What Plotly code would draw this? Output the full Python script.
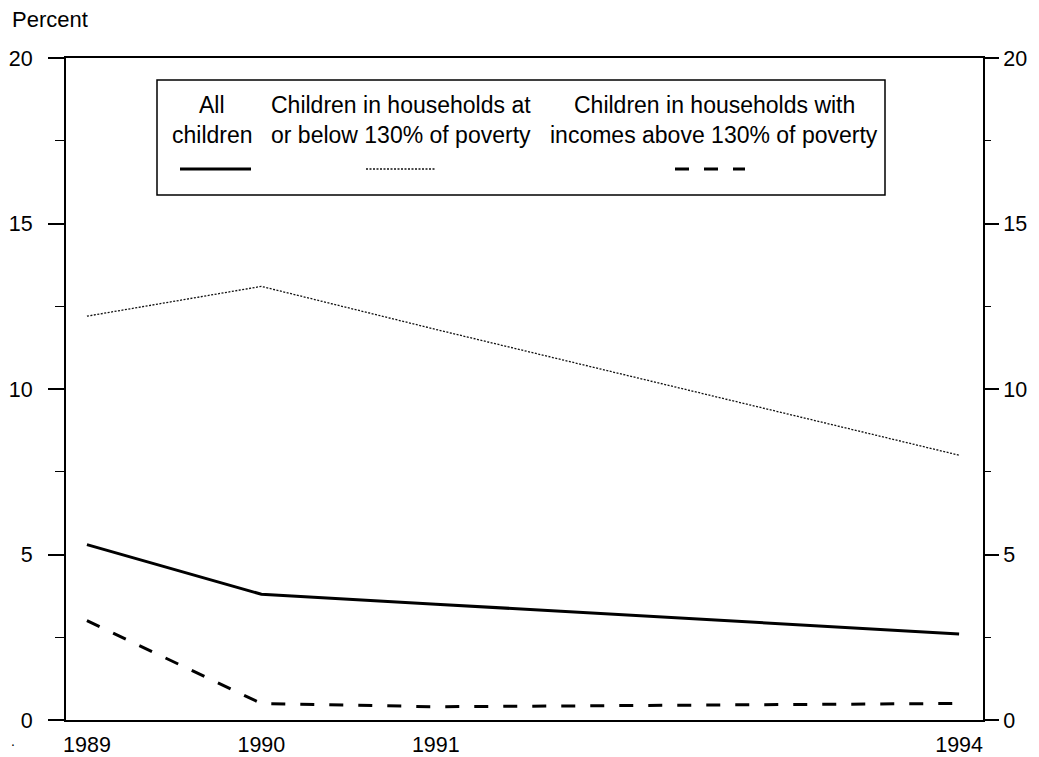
import plotly.graph_objects as go

years = [1989, 1990, 1991, 1994]
all_children = [5.3, 3.8, 3.5, 2.6]
below_130 = [12.2, 13.1, 11.8, 8.0]
above_130 = [3.0, 0.5, 0.4, 0.5]

x_ticks = [1989, 1990, 1991, 1994]
y_ticks = [0, 5, 10, 15, 20]

legend_cols = [
    ("All", "children"),
    ("Children in households at", "or below 130% of poverty"),
    ("Children in households with", "incomes above 130% of poverty"),
]

FONT = "Liberation Sans, Arial, sans-serif"
FS = 22
LFS = 23
TFS = 21.5

# page has an 8px body margin; compensate so the plot lands at absolute page pixels
OFF = 8
PAGE_W, PAGE_H = 1039, 757
PL, PR, PT, PB = 66, 983, 58, 720  # plot area in page pixels

W, H = PAGE_W - OFF, PAGE_H - OFF
L = PL - OFF
T = PT - OFF
R = W - (PR - OFF)
B = H - (PB - OFF)
pw = PR - PL
ph = PB - PT


def px(x):
    return (x - PL) / pw


def py(y):
    return (PB - y) / ph


DOT = dict(color="#111", width=1.3, dash="2px,1.5px")
DASH = dict(color="black", width=3, dash="14px,15px")

fig = go.Figure()
fig.add_trace(go.Scatter(x=years, y=below_130, mode="lines", line=DOT,
                         hoverinfo="skip", showlegend=False))
fig.add_trace(go.Scatter(x=years, y=all_children, mode="lines",
                         line=dict(color="black", width=3),
                         hoverinfo="skip", showlegend=False))
fig.add_trace(go.Scatter(x=years, y=above_130, mode="lines", line=DASH,
                         hoverinfo="skip", showlegend=False))
# invisible trace so the right axis is drawn
fig.add_trace(go.Scatter(x=years, y=all_children, yaxis="y2", mode="lines",
                         line=dict(width=0), opacity=0,
                         hoverinfo="skip", showlegend=False))

fig.update_layout(
    width=W, height=H,
    margin=dict(l=L, r=R, t=T, b=B, pad=0),
    paper_bgcolor="white", plot_bgcolor="white",
    font=dict(family=FONT, size=FS, color="black"),
    showlegend=False,
    xaxis=dict(range=[1988.88, 1994.137], tickvals=x_ticks, ticktext=[str(v) for v in x_ticks],
               showgrid=False, zeroline=False, showline=True, linecolor="black", linewidth=2,
               mirror=True, ticks="", ticklabelstandoff=4, automargin=False,
               tickfont=dict(family=FONT, size=TFS)),
    yaxis=dict(range=[0, 20], tickvals=y_ticks, showgrid=False, zeroline=False,
               showline=True, linecolor="black", linewidth=2, ticks="outside",
               ticklen=16, tickwidth=1.5, tickcolor="black", ticklabelstandoff=11,
               automargin=False,
               minor=dict(dtick=2.5, ticks="outside", ticklen=9, tickwidth=1,
                          tickcolor="black", showgrid=False),
               tickfont=dict(family=FONT, size=TFS)),
    yaxis2=dict(range=[0, 20], tickvals=y_ticks, overlaying="y", side="right",
                showgrid=False, zeroline=False, showline=True, linecolor="black", linewidth=2,
                ticks="outside", ticklen=14, tickwidth=1.5, tickcolor="black",
                automargin=False,
                minor=dict(dtick=2.5, ticks="outside", ticklen=6, tickwidth=1,
                           tickcolor="black", showgrid=False),
                tickfont=dict(family=FONT, size=TFS)),
)

annotations = [
    dict(text="Percent", xref="paper", yref="paper", x=px(10), y=py(20),
         xanchor="left", yanchor="middle", showarrow=False, font=dict(size=FS)),
    dict(text=".", xref="paper", yref="paper", x=px(9), y=py(741),
         xanchor="left", yanchor="middle", showarrow=False, font=dict(size=14)),
]

col_centers = [212, 401, 714]
for (r1, r2), cx in zip(legend_cols, col_centers):
    annotations.append(dict(text=r1, xref="paper", yref="paper", x=px(cx), y=py(105),
                            xanchor="center", yanchor="middle", showarrow=False,
                            font=dict(size=LFS)))
    annotations.append(dict(text=r2, xref="paper", yref="paper", x=px(cx), y=py(135),
                            xanchor="center", yanchor="middle", showarrow=False,
                            font=dict(size=LFS)))
fig.update_layout(annotations=annotations)

shapes = [
    dict(type="rect", xref="paper", yref="paper", x0=px(157), x1=px(885), y0=py(195), y1=py(80),
         line=dict(color="black", width=1.5), fillcolor="white", layer="above"),
    dict(type="line", xref="paper", yref="paper", x0=px(180), x1=px(251), y0=py(169), y1=py(169),
         line=dict(color="black", width=3)),
    dict(type="line", xref="paper", yref="paper", x0=px(366), x1=px(436), y0=py(169), y1=py(169),
         line=DOT),
    dict(type="line", xref="paper", yref="paper", x0=px(675), x1=px(745), y0=py(169), y1=py(169),
         line=DASH),
]
fig.update_layout(shapes=shapes)

fig.write_html("out.html")
